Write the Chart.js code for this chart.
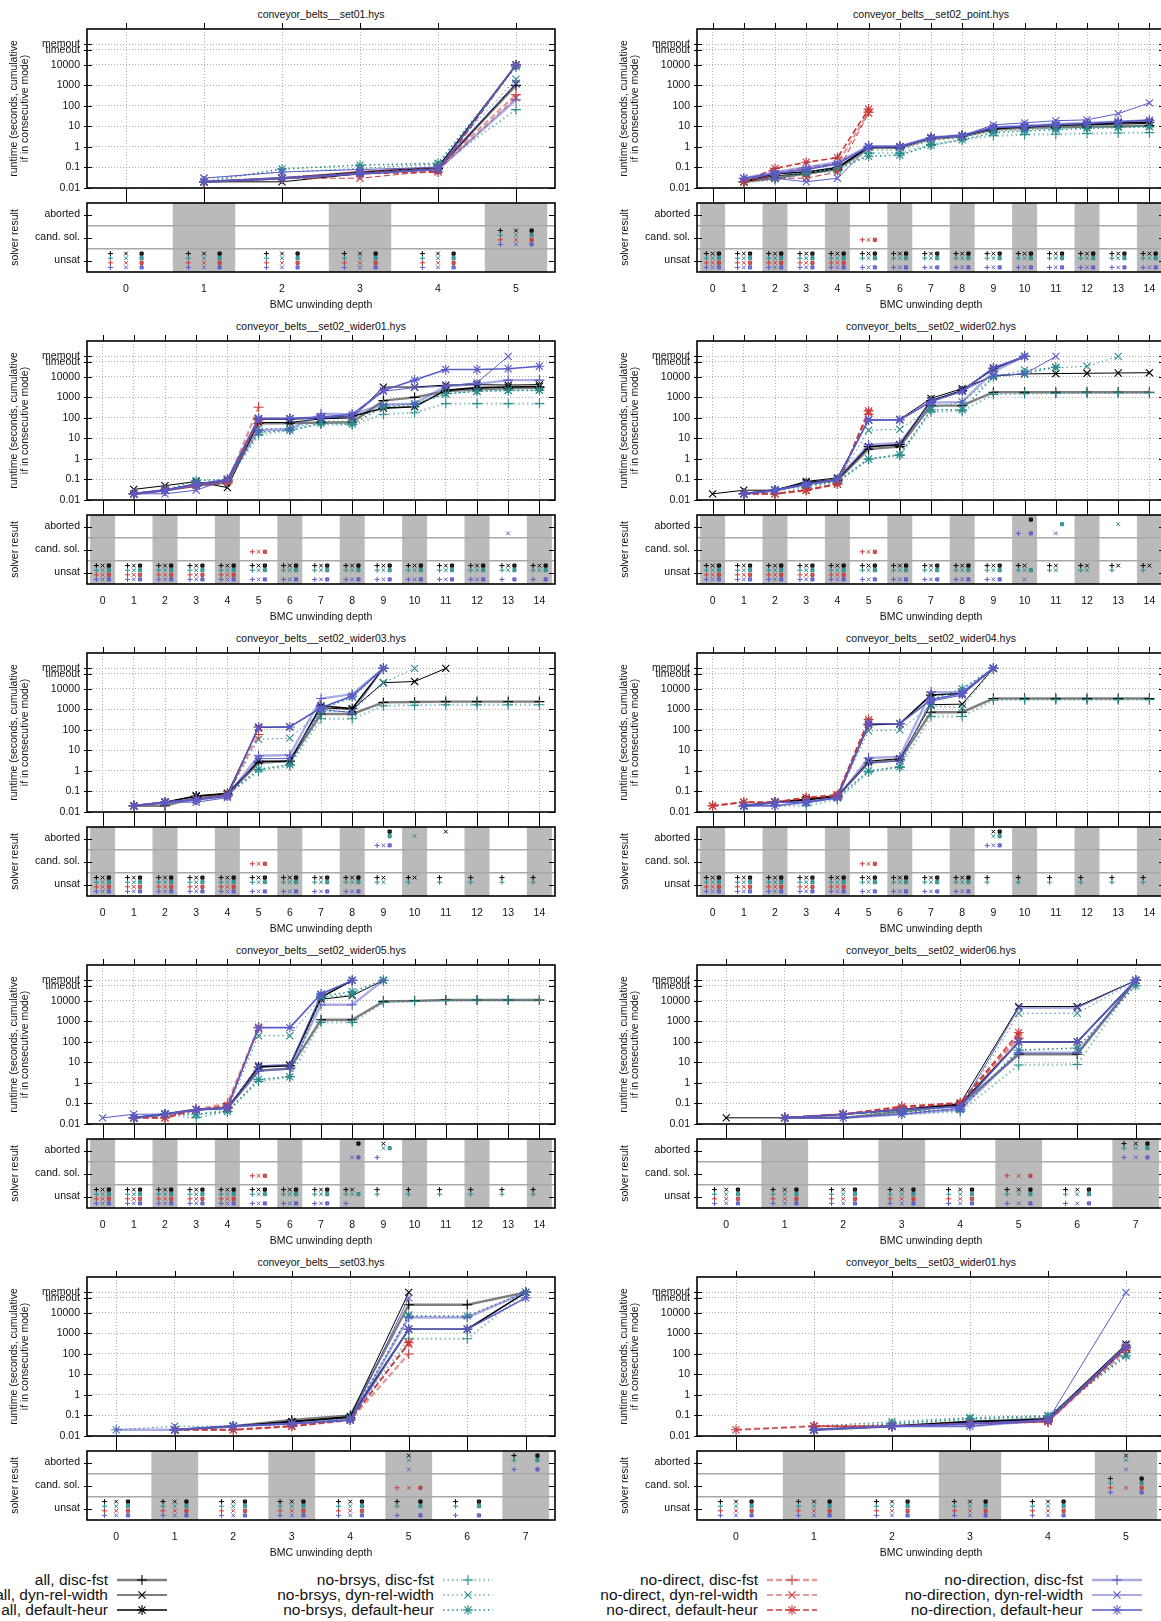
<!DOCTYPE html>
<html>
<head>
<meta charset="utf-8">
<script src="https://cdn.jsdelivr.net/npm/chart.js@4.4.1/dist/chart.umd.min.js"></script>
<style>
  html, body { margin: 0; padding: 0; background: #fff; width: 1161px; height: 1621px; overflow: hidden; }
  body { position: relative; font-family: "Liberation Sans", Arial, sans-serif; color: #111; }
  canvas { position: absolute; }
  .ttl { position: absolute; font-size: 10.5px; white-space: nowrap; transform: translate(-50%, -50%); }
  .leg { position: absolute; width: 320px; text-align: right; font-size: 15.5px; line-height: 18px; white-space: nowrap; }
  svg.sample { position: absolute; overflow: visible; }
</style>
</head>
<body>
<script>
// ---- series -------------------------------------------------------------
const seriesNames = [
  'all, disc-fst', 'all, dyn-rel-width', 'all, default-heur',
  'no-brsys, disc-fst', 'no-brsys, dyn-rel-width', 'no-brsys, default-heur',
  'no-direct, disc-fst', 'no-direct, dyn-rel-width', 'no-direct, default-heur',
  'no-direction, disc-fst', 'no-direction, dyn-rel-width', 'no-direction, default-heur'
];

// ---- axes ---------------------------------------------------------------
const depths6 = [0, 1, 2, 3, 4, 5];
const depths8 = [0, 1, 2, 3, 4, 5, 6, 7];
const depths15 = [0, 1, 2, 3, 4, 5, 6, 7, 8, 9, 10, 11, 12, 13, 14];
const runtimeTicks = [0.01, 0.1, 1, 10, 100, 1000, 10000, 54000, 100000];
const runtimeTickLabels = ['0.01', '0.1', '1', '10', '100', '1000', '10000', 'timeout', 'memout'];
const runtimeMax = 562000;
const resultLabels = ['unsat', 'cand. sol.', 'aborted'];

// ---- runtimes (s), one row per series, index = unwinding depth ----------
const set01_runtime = [
  [null, 0.02, 0.03, 0.05, 0.09, 1000],
  [null, 0.02, 0.02, 0.05, 0.08, 1200],
  [null, 0.02, 0.03, 0.06, 0.1, 10000],
  [null, 0.02, 0.03, 0.06, 0.12, 66],
  [null, 0.03, 0.06, 0.09, 0.15, 2000],
  [null, 0.02, 0.085, 0.13, 0.16, 8000],
  [null, 0.02, 0.03, 0.06, 0.1, 350],
  [null, 0.02, 0.03, 0.03, 0.07, 250],
  [null, 0.02, 0.03, 0.05, 0.06, 10000],
  [null, 0.02, 0.03, 0.05, 0.08, 200],
  [null, 0.03, 0.06, 0.08, 0.1, 1300],
  [null, 0.02, 0.03, 0.05, 0.08, 10000]
];
const set01_result = ['uuuuuc', 'uuuuuc', 'uuuuuc', 'uuuuuc', 'uuuuuc', 'uuuuuc',
  'uuuuuc', 'uuuuuc', 'uuuuuc', 'uuuuuc', 'uuuuuc', 'uuuuuc'];

const set02point_runtime = [
  [null, 0.02, 0.03, 0.05, 0.08, 0.9, 0.9, 2.5, 3.2, 7, 8.5, 9, 10, 10, 11],
  [null, 0.02, 0.04, 0.05, 0.09, 1, 1, 2.7, 3.5, 8, 9, 11, 12, 13, 14],
  [null, 0.02, 0.05, 0.06, 0.1, 1, 1, 2.8, 3.6, 8, 10, 12, 13, 15, 16],
  [null, 0.02, 0.025, 0.05, 0.07, 0.5, 0.5, 1.3, 2.3, 3.5, 4, 4.2, 4.5, 4.8, 5],
  [null, 0.02, 0.03, 0.05, 0.08, 0.7, 0.7, 2, 3, 6, 7, 8, 9, 10, 10],
  [null, 0.02, 0.03, 0.06, 0.09, 0.35, 0.4, 1.2, 2.2, 5, 6, 7, 8, 9, 9.5],
  [null, 0.02, 0.05, 0.1, 0.15, 50],
  [null, 0.02, 0.03, 0.03, 0.06, 45],
  [null, 0.02, 0.09, 0.18, 0.3, 70],
  [null, 0.03, 0.06, 0.1, 0.18, 1.1, 1.1, 2.9, 3.8, 9, 11, 13, 15, 17, 20],
  [null, 0.03, 0.03, 0.02, 0.03, 1, 1, 2.8, 3.5, 12, 15, 19, 21, 42, 140],
  [null, 0.03, 0.05, 0.08, 0.15, 1.05, 1.05, 2.8, 3.6, 9, 10, 12, 14, 17, 20]
];
const set02point_result = [
  'uuuuuuuuuuuuuuu', 'uuuuuuuuuuuuuuu', 'uuuuuuuuuuuuuuu',
  'uuuuuuuuuuuuuuu', 'uuuuuuuuuuuuuuu', 'uuuuuuuuuuuuuuu',
  'uuuuuc', 'uuuuuc', 'uuuuuc',
  'uuuuuuuuuuuuuuu', 'uuuuuuuuuuuuuuu', 'uuuuuuuuuuuuuuu'
];

const wider01_runtime = [
  [null, 0.02, 0.03, 0.05, 0.07, 55, 55, 60, 62, 700, 1000, 2000, 2500, 2800, 3000],
  [null, 0.033, 0.05, 0.08, 0.04, 60, 60, 90, 100, 3200, 3200, 4000, 4200, 4000, 4200],
  [null, 0.02, 0.03, 0.06, 0.09, 90, 90, 100, 120, 300, 350, 2200, 3000, 3200, 3400],
  [null, 0.02, 0.03, 0.05, 0.08, 15, 25, 50, 45, 150, 180, 500, 500, 500, 500],
  [null, 0.02, 0.03, 0.06, 0.1, 30, 30, 70, 70, 400, 500, 1500, 2000, 2200, 2300],
  [null, 0.02, 0.03, 0.09, 0.1, 20, 25, 55, 50, 350, 450, 1500, 2000, 2200, 2200],
  [null, 0.02, 0.03, 0.05, 0.07, 330],
  [null, 0.02, 0.03, 0.05, 0.08, 70],
  [null, 0.02, 0.03, 0.05, 0.08, 80],
  [null, 0.02, 0.03, 0.05, 0.09, 25, 28, 160, 150, 450, 500, 3500, 4500, 7000, 7000],
  [null, 0.02, 0.02, 0.03, 0.1, 90, 90, 100, 120, 2000, 3000, 3500, 5300, 100000],
  [null, 0.02, 0.03, 0.06, 0.1, 95, 95, 110, 150, 2200, 7000, 23000, 23000, 25000, 33000]
];
const wider01_result = [
  'uuuuuuuuuuuuuuu', 'uuuuuuuuuuuuuuu', 'uuuuuuuuuuuuuuu',
  'uuuuuuuuuuuuuuu', 'uuuuuuuuuuuuuuu', 'uuuuuuuuuuuuuuu',
  'uuuuuc', 'uuuuuc', 'uuuuuc',
  'uuuuuuuuuuuuuuu', 'uuuuuuuuuuuuua', 'uuuuuuuuuuuuuuu'
];

const wider02_runtime = [
  [null, 0.02, 0.03, 0.06, 0.09, 3, 4, 400, 400, 1800, 1800, 1800, 1800, 1800, 1800],
  [0.02, 0.03, 0.03, 0.08, 0.12, 80, 85, 900, 2700, 11000, 14000, 14500, 15000, 15500, 16000],
  [null, 0.02, 0.03, 0.07, 0.1, 4, 5, 700, 2200, 25000, 100000],
  [null, 0.02, 0.02, 0.04, 0.07, 1, 1.5, 200, 220, 1400, 1500, 1600, 1700, 1700, 1700],
  [null, 0.02, 0.03, 0.05, 0.08, 25, 28, 300, 600, 10000, 22000, 28000, 33000, 100000],
  [null, 0.02, 0.03, 0.05, 0.08, 1, 1.6, 250, 250, 10000, 15000, 30000],
  [null, 0.02, 0.02, 0.03, 0.06, 150],
  [null, 0.02, 0.02, 0.03, 0.06, 180],
  [null, 0.02, 0.02, 0.03, 0.06, 220],
  [null, 0.02, 0.03, 0.06, 0.1, 5, 6, 560, 600, 18000, 100000],
  [null, 0.02, 0.03, 0.06, 0.1, 80, 80, 600, 2000, 12000, 14000, 100000],
  [null, 0.02, 0.03, 0.06, 0.1, 80, 80, 650, 2000, 28000, 100000]
];
const wider02_result = [
  'uuuuuuuuuuuuuuu', 'uuuuuuuuuuuuuuu', 'uuuuuuuuuua',
  'uuuuuuuuuuuuuuu', 'uuuuuuuuuuuuua', 'uuuuuuuuuuua',
  'uuuuuc', 'uuuuuc', 'uuuuuc',
  'uuuuuuuuuua', 'uuuuuuuuuuua', 'uuuuuuuuuua'
];

const wider03_runtime = [
  [null, 0.02, 0.02, 0.05, 0.07, 2.5, 3, 600, 600, 2200, 2300, 2400, 2400, 2400, 2400],
  [null, 0.02, 0.03, 0.06, 0.08, 130, 140, 1200, 1000, 20000, 23000, 100000],
  [null, 0.02, 0.03, 0.06, 0.08, 3, 3, 1500, 1100, 100000],
  [null, 0.02, 0.025, 0.04, 0.07, 1, 1.8, 350, 350, 1500, 1600, 1700, 1700, 1700, 1700],
  [null, 0.02, 0.03, 0.04, 0.07, 35, 40, 800, 800, 20000, 100000],
  [null, 0.02, 0.03, 0.04, 0.07, 1.2, 2, 1000, 4000, 100000],
  [null, 0.02, 0.03, 0.04, 0.07, 60],
  [null, 0.02, 0.03, 0.04, 0.07, 120],
  [null, 0.02, 0.03, 0.04, 0.06, 140],
  [null, 0.02, 0.03, 0.04, 0.06, 5.5, 6, 3400, 5500, 100000],
  [null, 0.02, 0.03, 0.03, 0.05, 4, 4, 1000, 700, 100000],
  [null, 0.02, 0.03, 0.04, 0.06, 140, 140, 1200, 4500, 100000]
];
const wider03_result = [
  'uuuuuuuuuuuuuuu', 'uuuuuuuuuuua', 'uuuuuuuuua',
  'uuuuuuuuuuuuuuu', 'uuuuuuuuuua', 'uuuuuuuuua',
  'uuuuuc', 'uuuuuc', 'uuuuuc',
  'uuuuuuuuua', 'uuuuuuuuua', 'uuuuuuuuua'
];

const wider04_runtime = [
  [null, 0.02, 0.03, 0.04, 0.06, 2.5, 3.5, 730, 730, 3400, 3400, 3400, 3400, 3400, 3400],
  [null, 0.02, 0.03, 0.04, 0.06, 3, 4, 1700, 1800, 100000],
  [null, 0.02, 0.03, 0.04, 0.06, 180, 200, 5000, 6000, 100000],
  [null, 0.02, 0.02, 0.02, 0.04, 0.9, 1.5, 450, 450, 2800, 3000, 3000, 3000, 3000, 3000],
  [null, 0.02, 0.03, 0.03, 0.05, 90, 100, 1500, 1200, 100000],
  [null, 0.02, 0.03, 0.03, 0.05, 1, 1.6, 3000, 10000, 100000],
  [0.02, 0.03, 0.03, 0.05, 0.06, 180],
  [0.02, 0.03, 0.03, 0.05, 0.06, 250],
  [0.02, 0.03, 0.03, 0.05, 0.07, 320],
  [null, 0.02, 0.02, 0.03, 0.05, 4.3, 5, 7000, 7000, 100000],
  [null, 0.02, 0.02, 0.03, 0.05, 2.5, 3, 2500, 5000, 100000],
  [null, 0.02, 0.03, 0.03, 0.05, 200, 200, 3000, 6000, 100000]
];
const wider04_result = [
  'uuuuuuuuuuuuuuu', 'uuuuuuuuua', 'uuuuuuuuua',
  'uuuuuuuuuuuuuuu', 'uuuuuuuuua', 'uuuuuuuuua',
  'uuuuuc', 'uuuuuc', 'uuuuuc',
  'uuuuuuuuua', 'uuuuuuuuua', 'uuuuuuuuua'
];

const wider05_runtime = [
  [null, 0.02, 0.03, 0.05, 0.06, 4, 5, 1200, 1200, 9500, 10000, 11000, 11000, 11000, 11000],
  [null, 0.02, 0.03, 0.05, 0.06, 7, 7.5, 12000, 18000, 100000],
  [null, 0.02, 0.03, 0.05, 0.06, 6, 7, 15000, 100000],
  [null, 0.02, 0.03, 0.02, 0.04, 1.2, 2, 900, 900, 8500, 9500, 10500, 11000, 11000, 11000],
  [null, 0.02, 0.03, 0.03, 0.05, 200, 200, 15000, 20000, 100000],
  [null, 0.02, 0.03, 0.03, 0.04, 1.5, 2, 17000, 28000, 100000],
  [null, 0.02, 0.02, 0.05, 0.1, 500],
  [null, 0.02, 0.02, 0.05, 0.08, 450],
  [null, 0.02, 0.02, 0.05, 0.07, 520],
  [null, 0.02, 0.03, 0.05, 0.06, 4, 5, 6500, 6500, 100000],
  [0.02, 0.03, 0.03, 0.05, 0.06, 7, 7.5, 20000, 100000],
  [null, 0.02, 0.03, 0.05, 0.06, 500, 500, 22000, 100000]
];
const wider05_result = [
  'uuuuuuuuuuuuuuu', 'uuuuuuuuua', 'uuuuuuuua',
  'uuuuuuuuuuuuuuu', 'uuuuuuuuua', 'uuuuuuuuua',
  'uuuuuc', 'uuuuuc', 'uuuuuc',
  'uuuuuuuuua', 'uuuuuuuua', 'uuuuuuuua'
];

const wider06_runtime = [
  [null, 0.02, 0.02, 0.04, 0.08, 25, 25, 100000],
  [0.02, 0.02, 0.03, 0.05, 0.1, 5300, 5300, 100000],
  [null, 0.02, 0.03, 0.05, 0.09, 100, 100, 100000],
  [null, 0.02, 0.02, 0.03, 0.04, 7.5, 8, 100000],
  [null, 0.02, 0.03, 0.04, 0.05, 2500, 2500, 100000],
  [null, 0.02, 0.03, 0.04, 0.05, 40, 50, 54000],
  [null, 0.02, 0.03, 0.07, 0.1, 150],
  [null, 0.02, 0.03, 0.06, 0.1, 200],
  [null, 0.02, 0.03, 0.07, 0.11, 280],
  [null, 0.02, 0.02, 0.03, 0.05, 30, 30, 100000],
  [null, 0.02, 0.02, 0.03, 0.06, 4500, 4500, 100000],
  [null, 0.02, 0.03, 0.05, 0.07, 100, 100, 100000]
];
const wider06_result = [
  'uuuuuuua', 'uuuuuuua', 'uuuuuuua',
  'uuuuuuua', 'uuuuuuua', 'uuuuuuua',
  'uuuuuc', 'uuuuuc', 'uuuuuc',
  'uuuuuuua', 'uuuuuuua', 'uuuuuuua'
];

const set03_runtime = [
  [null, 0.02, 0.03, 0.06, 0.1, 25000, 25000, 100000],
  [null, 0.02, 0.03, 0.05, 0.09, 100000],
  [null, 0.02, 0.03, 0.05, 0.08, 1600, 1600, 100000],
  [null, 0.02, 0.03, 0.04, 0.07, 550, 550, 100000],
  [0.02, 0.03, 0.03, 0.04, 0.07, 8000],
  [null, 0.02, 0.03, 0.04, 0.07, 7000, 7000, 100000],
  [null, 0.02, 0.02, 0.03, 0.06, 100],
  [null, 0.02, 0.02, 0.03, 0.06, 300],
  [null, 0.02, 0.02, 0.03, 0.06, 350],
  [0.02, 0.02, 0.03, 0.04, 0.06, 6000, 6000, 100000],
  [null, 0.02, 0.03, 0.04, 0.06, 54000],
  [null, 0.02, 0.03, 0.04, 0.06, 1600, 1600, 54000]
];
const set03_result = [
  'uuuuuuua', 'uuuuua', 'uuuuuuua',
  'uuuuuuua', 'uuuuua', 'uuuuuuua',
  'uuuuuc', 'uuuuuc', 'uuuuuc',
  'uuuuuuua', 'uuuuua', 'uuuuuuua'
];

const set03w01_runtime = [
  [null, 0.02, 0.03, 0.05, 0.07, 250],
  [null, 0.02, 0.03, 0.05, 0.07, 300],
  [null, 0.02, 0.03, 0.05, 0.06, 200],
  [null, 0.03, 0.04, 0.06, 0.08, 120],
  [null, 0.03, 0.05, 0.08, 0.1, 90],
  [null, 0.02, 0.04, 0.07, 0.09, 80],
  [0.02, 0.03, 0.03, 0.04, 0.05, 150],
  [0.02, 0.03, 0.03, 0.04, 0.05, 180],
  [null, 0.03, 0.03, 0.04, 0.05, 200],
  [null, 0.02, 0.03, 0.03, 0.06, 200],
  [null, 0.02, 0.03, 0.03, 0.06, 100000],
  [null, 0.02, 0.03, 0.04, 0.06, 250]
];
const set03w01_result = [
  'uuuuuc', 'uuuuua', 'uuuuuc',
  'uuuuuc', 'uuuuua', 'uuuuuc',
  'uuuuuc', 'uuuuuc', 'uuuuuc',
  'uuuuuc', 'uuuuua', 'uuuuuc'
];

const panelTitles = [
  'conveyor_belts__set01.hys', 'conveyor_belts__set02_point.hys',
  'conveyor_belts__set02_wider01.hys', 'conveyor_belts__set02_wider02.hys',
  'conveyor_belts__set02_wider03.hys', 'conveyor_belts__set02_wider04.hys',
  'conveyor_belts__set02_wider05.hys', 'conveyor_belts__set02_wider06.hys',
  'conveyor_belts__set03.hys', 'conveyor_belts__set03_wider01.hys'
];
const panelDepths = [depths6, depths15, depths15, depths15, depths15, depths15, depths15, depths8, depths8, depths6];
const panelRuntimes = [set01_runtime, set02point_runtime, wider01_runtime, wider02_runtime,
  wider03_runtime, wider04_runtime, wider05_runtime, wider06_runtime, set03_runtime, set03w01_runtime];
const panelResults = [set01_result, set02point_result, wider01_result, wider02_result,
  wider03_result, wider04_result, wider05_result, wider06_result, set03_result, set03w01_result];

// ---- styling --------------------------------------------------------------
const groupColors = ['#000000', '#2b8c8c', '#c83737', '#5a5ac8'];
const groupDash = [[], [1.5, 3], [6, 3], []];
const heurPoint = ['cross', 'crossRot', 'star'];
const resultPoint = ['cross', 'crossRot', 'rect'];
const heurLineWidth = [2.4, 1, 1.6];
const heurAlpha = [0.5, 1, 1];
const statusValue = { u: 1, c: 2, a: 3 };
const colOffset = [-0.2, 0, 0.2];
const rowOffset = [0.3, 0.1, -0.1, -0.3];

const FONT = 'Liberation Sans';
Chart.defaults.font.family = FONT;
Chart.defaults.font.size = 10.5;
Chart.defaults.color = '#111';
Chart.defaults.animation = false;

function rgba(hex, a) {
  const n = parseInt(hex.slice(1), 16);
  return `rgba(${(n >> 16) & 255},${(n >> 8) & 255},${n & 255},${a})`;
}

// Box border and gnuplot-style tick marks
const gnuFrame = {
  id: 'gnuFrame',
  afterDraw(chart, args, opts) {
    const { ctx, chartArea: a, scales } = chart;
    const xs = scales.x, ys = scales.y;
    ctx.save();
    ctx.strokeStyle = '#000';
    ctx.lineWidth = 1;
    ctx.beginPath();
    xs.ticks.forEach(t => {
      const px = Math.round(xs.getPixelForValue(t.value)) + 0.5;
      if (opts.up) { ctx.moveTo(px, a.top - opts.up); ctx.lineTo(px, a.top); }
      if (opts.down) { ctx.moveTo(px, a.bottom); ctx.lineTo(px, chart.height); }
      if (opts.fromTop) { ctx.moveTo(px, 0); ctx.lineTo(px, a.top); }
    });
    (opts.yTicks || []).forEach(v => {
      const py = Math.round(ys.getPixelForValue(v)) + 0.5;
      ctx.moveTo(a.left - 3, py); ctx.lineTo(a.left + 5, py);
      ctx.moveTo(a.right - 6, py); ctx.lineTo(a.right, py);
    });
    ctx.stroke();
    ctx.lineWidth = 1.6;
    ctx.strokeRect(a.left, a.top, a.right - a.left, a.bottom - a.top);
    ctx.restore();
  }
};

function makeCanvas(left, top, w, h) {
  const c = document.createElement('canvas');
  c.width = w; c.height = h;
  c.style.left = left + 'px'; c.style.top = top + 'px';
  c.style.width = w + 'px'; c.style.height = h + 'px';
  document.body.appendChild(c);
  return c;
}

// fixed axis sizes, no label overhang padding
function fixWidth(w) {
  return s => { s.width = w; s.paddingTop = 0; s.paddingBottom = 0; s.paddingLeft = 0; s.paddingRight = 0; };
}
function fixHeight(h) {
  return s => { s.height = h; s.paddingTop = 0; s.paddingBottom = 0; s.paddingLeft = 0; s.paddingRight = 0; };
}

const dottedGrid = { color: '#9c9c9c', lineWidth: 0.8, drawTicks: false };
const PW = 580, AXW = 87, PADR = 25;

panelTitles.forEach((title, p) => {
  const col = p % 2, row = Math.floor(p / 2);
  const cx = col * 610, ry = row * 312;
  const depths = panelDepths[p];
  const last = depths[depths.length - 1];
  const runtimes = panelRuntimes[p];
  const results = panelResults[p];

  const t = document.createElement('div');
  t.className = 'ttl';
  t.textContent = title;
  t.style.left = (cx + 321) + 'px';
  t.style.top = (ry + 14) + 'px';
  document.body.appendChild(t);

  // runtime plot
  const rtSets = runtimes.map((vals, s) => {
    const g = Math.floor(s / 3), h = s % 3;
    const data = [];
    vals.forEach((v, i) => { if (v != null) data.push({ x: depths[i], y: v }); });
    return {
      label: seriesNames[s], data,
      borderColor: rgba(groupColors[g], heurAlpha[h]),
      borderWidth: heurLineWidth[h],
      borderDash: groupDash[g],
      pointStyle: heurPoint[h], pointRadius: 5, pointBorderWidth: 1.1,
      pointBorderColor: groupColors[g], pointBackgroundColor: 'transparent',
      showLine: true, tension: 0, fill: false, order: 12 - s
    };
  });
  new Chart(makeCanvas(cx, ry, PW, 196), {
    type: 'scatter',
    data: { datasets: rtSets },
    plugins: [gnuFrame],
    options: {
      responsive: false, devicePixelRatio: 1,
      layout: { padding: { top: 29, right: PADR, bottom: 8, left: 0 }, autoPadding: false },
      plugins: { legend: { display: false }, tooltip: { enabled: false },
        gnuFrame: { up: 6, down: true, yTicks: runtimeTicks } },
      scales: {
        x: {
          type: 'linear', min: -0.5, max: last + 0.5,
          afterBuildTicks: s => { s.ticks = depths.map(v => ({ value: v })); },
          ticks: { display: false }, grid: dottedGrid,
          border: { display: false, dash: [1, 2] },
          afterFit: fixHeight(0)
        },
        y: {
          type: 'logarithmic', min: 0.01, max: runtimeMax,
          afterBuildTicks: s => { s.ticks = runtimeTicks.map(v => ({ value: v })); },
          ticks: { autoSkip: false, padding: 7, color: '#111',
            callback: (v, i) => runtimeTickLabels[i] },
          grid: dottedGrid,
          border: { display: false, dash: [1, 2] },
          title: { display: true, text: ['runtime (seconds, cumulative', 'if in consecutive mode)'],
            font: { size: 10.5, lineHeight: 1.05 }, padding: { top: 8.5, bottom: 0 }, color: '#111' },
          afterFit: fixWidth(AXW)
        }
      }
    }
  });

  // solver result plot
  const shaded = depths.filter(d => (last - d) % 2 === 0);
  const resSets = [{
    type: 'bar', label: 'shade',
    data: shaded.map(d => ({ x: d, y: [0.5, 3.5] })),
    backgroundColor: '#bababa', borderWidth: 0,
    barPercentage: 0.8, categoryPercentage: 1, order: 50
  }];
  results.forEach((st, s) => {
    const g = Math.floor(s / 3), h = s % 3;
    const data = [];
    for (let i = 0; i < st.length; i++) {
      const v = statusValue[st[i]];
      if (v) data.push({ x: depths[i] + colOffset[h], y: v + rowOffset[g] });
    }
    resSets.push({
      type: 'scatter', label: seriesNames[s], data,
      pointStyle: resultPoint[h], pointRadius: h === 2 ? 2.2 : 2.6, pointBorderWidth: 1,
      pointBorderColor: groupColors[g], pointBackgroundColor: rgba(groupColors[g], 0.8),
      showLine: false, order: 12 - s
    });
  });
  new Chart(makeCanvas(cx, ry + 196, PW, 116), {
    type: 'scatter',
    data: { datasets: resSets },
    plugins: [gnuFrame],
    options: {
      responsive: false, devicePixelRatio: 1,
      layout: { padding: { top: 7, right: PADR, bottom: 0, left: 0 }, autoPadding: false },
      plugins: { legend: { display: false }, tooltip: { enabled: false },
        gnuFrame: { fromTop: true, yTicks: [1, 2, 3] } },
      scales: {
        x: {
          type: 'linear', min: -0.5, max: last + 0.5, offset: false,
          afterBuildTicks: s => { s.ticks = depths.map(v => ({ value: v })); },
          ticks: { padding: 11, color: '#111', autoSkip: false, maxRotation: 0 },
          grid: { display: false, drawTicks: false },
          border: { display: false },
          title: { display: true, text: 'BMC unwinding depth', color: '#111',
            font: { size: 10.5 }, padding: { top: 0, bottom: 1 } },
          afterFit: fixHeight(40)
        },
        y: {
          type: 'linear', min: 0.5, max: 3.5,
          afterBuildTicks: s => { s.ticks = [1, 1.5, 2, 2.5, 3].map(v => ({ value: v })); },
          ticks: { autoSkip: false, padding: 7, color: '#111',
            callback: v => (v % 1 === 0 ? resultLabels[v - 1] : '') },
          grid: { drawTicks: false, lineWidth: 1.4, z: 1,
            color: c => (c.tick && c.tick.value % 1 !== 0) ? '#a8a8a8' : 'rgba(0,0,0,0)' },
          border: { display: false },
          title: { display: true, text: 'solver result', color: '#111',
            font: { size: 10.5, lineHeight: 1.05 }, padding: { top: 9.3, bottom: 0 } },
          afterFit: fixWidth(AXW)
        }
      }
    }
  });
});

// ---- key ---------------------------------------------------------------
const keyTextEnd = [108, 434, 758, 1083];
const keyRowY = [1580, 1595, 1610];
const SVGNS = 'http://www.w3.org/2000/svg';
function svgLine(svg, x1, y1, x2, y2, color, width, dash) {
  const l = document.createElementNS(SVGNS, 'line');
  l.setAttribute('x1', x1); l.setAttribute('y1', y1);
  l.setAttribute('x2', x2); l.setAttribute('y2', y2);
  l.setAttribute('stroke', color); l.setAttribute('stroke-width', width);
  if (dash && dash.length) l.setAttribute('stroke-dasharray', dash.join(' '));
  svg.appendChild(l);
}
seriesNames.forEach((name, s) => {
  const g = Math.floor(s / 3), h = s % 3;
  const xe = keyTextEnd[g], y = keyRowY[h];
  const d = document.createElement('div');
  d.className = 'leg';
  d.textContent = name;
  d.style.left = (xe - 320) + 'px';
  d.style.top = (y - 9) + 'px';
  document.body.appendChild(d);

  const svg = document.createElementNS(SVGNS, 'svg');
  svg.setAttribute('class', 'sample');
  svg.setAttribute('width', 52); svg.setAttribute('height', 14);
  svg.style.left = (xe + 8) + 'px'; svg.style.top = (y - 7) + 'px';
  svgLine(svg, 1, 7, 51, 7, rgba(groupColors[g], heurAlpha[h]), heurLineWidth[h], groupDash[g]);
  const c = groupColors[g], r = 5, cxm = 26;
  if (h === 0 || h === 2) { svgLine(svg, cxm - r, 7, cxm + r, 7, c, 1.1); svgLine(svg, cxm, 7 - r, cxm, 7 + r, c, 1.1); }
  if (h === 1 || h === 2) {
    const q = r * 0.707;
    svgLine(svg, cxm - q, 7 - q, cxm + q, 7 + q, c, 1.1); svgLine(svg, cxm - q, 7 + q, cxm + q, 7 - q, c, 1.1);
  }
  document.body.appendChild(svg);
});
</script>
</body>
</html>
